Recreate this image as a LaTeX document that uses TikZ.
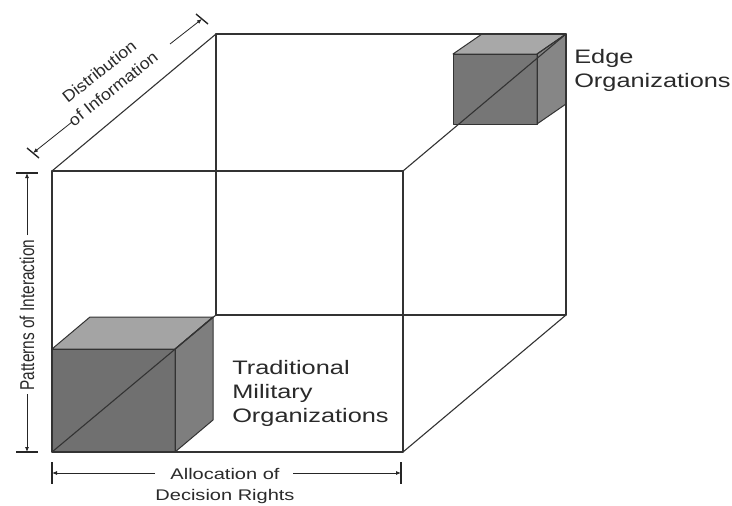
\documentclass[tikz,border=0pt]{standalone}
\usepackage{fontspec}
\setmainfont{Liberation Sans}
\newfontfamily\diagfont[FakeStretch=1.1]{Liberation Sans}
\usetikzlibrary{arrows.meta}
\definecolor{edgecol}{HTML}{333333}
\definecolor{txtcol}{HTML}{2A2A2A}
\definecolor{sfront}{HTML}{707070}
\definecolor{stop}{HTML}{A4A4A4}
\definecolor{sright}{HTML}{7E7E7E}
\definecolor{efront}{HTML}{767676}
\definecolor{etop}{HTML}{A8A8A8}
\definecolor{eright}{HTML}{868686}
\begin{document}
\begin{tikzpicture}[x=1pt,y=-1pt,
  cubeedge/.style={draw=edgecol, line width=1.1pt, line join=round, line cap=round},
  face/.style={draw=edgecol, line width=1pt, line join=round},
  dimline/.style={draw=black!85, line width=0.8pt, -{Latex[length=5pt,width=4pt]}},
  dimtick/.style={draw=black!85, line width=1.4pt},
  widetext/.style={xscale=1.3, transform shape, inner sep=0pt, text=txtcol},
  biglbl/.style={widetext, align=left, font=\fontsize{19.5}{24}\selectfont},
  dimlbl/.style={widetext, align=center, font=\fontsize{15.4}{21.5}\selectfont},
  diaglbl/.style={inner sep=0pt, text=txtcol, align=center, font=\diagfont\fontsize{16.2}{22}\selectfont},
]
\useasboundingbox (0,0) rectangle (732,506);
\fill[white] (0,0) rectangle (732,506);

% big cube corners
\coordinate (F1) at (52,171);
\coordinate (F2) at (403,171);
\coordinate (F3) at (403,452);
\coordinate (F4) at (52,452);
\coordinate (B1) at (216,34);
\coordinate (B2) at (566,34);
\coordinate (B3) at (566,315);
\coordinate (B4) at (216,315);

% small cube (traditional)
\fill[fill=stop] (52,349) -- (90,317) -- (213,317) -- (175,349) -- cycle;
\fill[fill=sright] (175,349) -- (213,317) -- (213,420) -- (175,452) -- cycle;
\fill[fill=sfront] (52,349) rectangle (175,452);
\draw[face] (52,349) -- (90,317) -- (213,317) -- (175,349) -- cycle;
\draw[face] (175,349) -- (213,317) -- (213,420) -- (175,452) -- cycle;
\draw[face] (52,349) rectangle (175,452);

% edge cube
\fill[fill=etop] (453,54) -- (482,34) -- (566,34) -- (537,54) -- cycle;
\fill[fill=eright] (537,54) -- (566,34) -- (566,104) -- (537,124) -- cycle;
\fill[fill=efront] (453,54) rectangle (537,124);
\draw[face] (453,54) -- (482,34) -- (566,34) -- (537,54) -- cycle;
\draw[face] (537,54) -- (566,34) -- (566,104) -- (537,124) -- cycle;
\draw[face] (453,54) rectangle (537,124);

% big cube edges
\draw[cubeedge] (F1) -- (F2) -- (F3) -- (F4) -- cycle;
\draw[cubeedge] (B1) -- (B2) -- (B3) -- (B4) -- cycle;
\draw[cubeedge] (F1) -- (B1);
\draw[cubeedge] (F2) -- (B2);
\draw[cubeedge] (F3) -- (B3);
\draw[cubeedge] (F4) -- (B4);

% labels
\node[biglbl, anchor=west] (trad) at (232,393) {Traditional\\Military\\Organizations};
\node[biglbl, anchor=west] (edge) at (574,70) {Edge\\Organizations};

% top dimension: Distribution of Information
\node[diaglbl, rotate=38.5] (dist) at (106,80) {Distribution\\of Information};
\coordinate (T1) at (33,153);
\coordinate (T2) at (202,19);
\coordinate (T1a) at (72,122);
\coordinate (T2a) at (170,44);
\draw[dimtick] (27,148) -- (39,158);
\draw[dimtick] (196,14) -- (208,24);
\draw[dimline] (T1a) -- (T1);
\draw[dimline] (T2a) -- (T2);

% left dimension: Patterns of Interaction
\node[dimlbl, rotate=90] (patt) at (27,315) {Patterns of Interaction};
\coordinate (L1) at (27,173);
\coordinate (L2) at (27,452);
\coordinate (L1a) at (27,235);
\coordinate (L2a) at (27,394);
\draw[dimtick] (16,173) -- (38,173);
\draw[dimtick] (16,452) -- (38,452);
\draw[dimline] (L1a) -- (L1);
\draw[dimline] (L2a) -- (L2);

% bottom dimension: Allocation of Decision Rights
\node[dimlbl] (alloc) at (225,486) {Allocation of\\Decision Rights};
\coordinate (D1) at (52,473);
\coordinate (D2) at (401,473);
\coordinate (D1a) at (155,473);
\coordinate (D2a) at (293,473);
\draw[dimtick] (52,462) -- (52,484);
\draw[dimtick] (401,462) -- (401,484);
\draw[dimline] (D1a) -- (D1);
\draw[dimline] (D2a) -- (D2);
\end{tikzpicture}
\end{document}
